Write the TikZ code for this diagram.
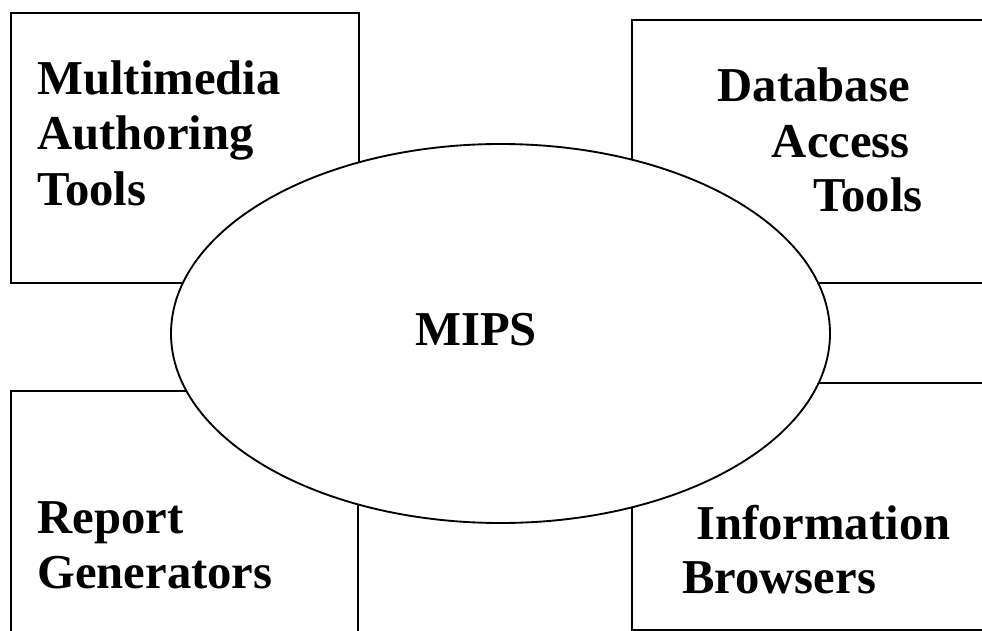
\documentclass[tikz,border=0pt]{standalone}
\usepackage{fontspec}
\setmainfont{Liberation Serif}
\usetikzlibrary{shapes.geometric}
\begin{document}
\begin{tikzpicture}[x=0.75pt,y=-0.75pt,
  frame/.style={draw=black,line width=1.4pt,line join=miter},
  lbl/.style={font=\bfseries\fontsize{36.5}{42}\selectfont,inner sep=0pt,text=black}]
\useasboundingbox (0,0) rectangle (982,631);
\clip (0,0) rectangle (982,631);
\fill[white] (0,0) rectangle (982,631);
% boxes
\draw[frame] (11,13) rectangle (359,283);
\draw[frame] (995,20) -- (632,20) -- (632,283) -- (995,283);
\draw[frame] (995,383) -- (632,383) -- (632,630) -- (995,630);
\draw[frame] (11,645) -- (11,391) -- (358,391) -- (358,645);
% ellipse
\node[frame,fill=white,ellipse,minimum width=659*0.75pt,minimum height=379*0.75pt,inner sep=0pt] (mips) at (500.5,333.5) {};
\node[lbl,anchor=base] (mipst) at (476,345) {MIPS};
% labels
\node[lbl,anchor=base west] (mm1) at (37,95) {Multimedia};
\node[lbl,anchor=base west] (mm2) at (37,150) {Authoring};
\node[lbl,anchor=base west] (mm3) at (37,206) {Tools};
\node[lbl,anchor=base east] (db1) at (910,102) {Database};
\node[lbl,anchor=base east] (db2) at (910,158) {Access};
\node[lbl,anchor=base east] (db3) at (923,212) {Tools};
\node[lbl,anchor=base west] (rg1) at (37,533) {Report};
\node[lbl,anchor=base west] (rg2) at (37,588) {Generators};
\node[lbl,anchor=base west] (ib1) at (696,539) {Information};
\node[lbl,anchor=base west] (ib2) at (682,593) {Browsers};
\end{tikzpicture}
\end{document}
